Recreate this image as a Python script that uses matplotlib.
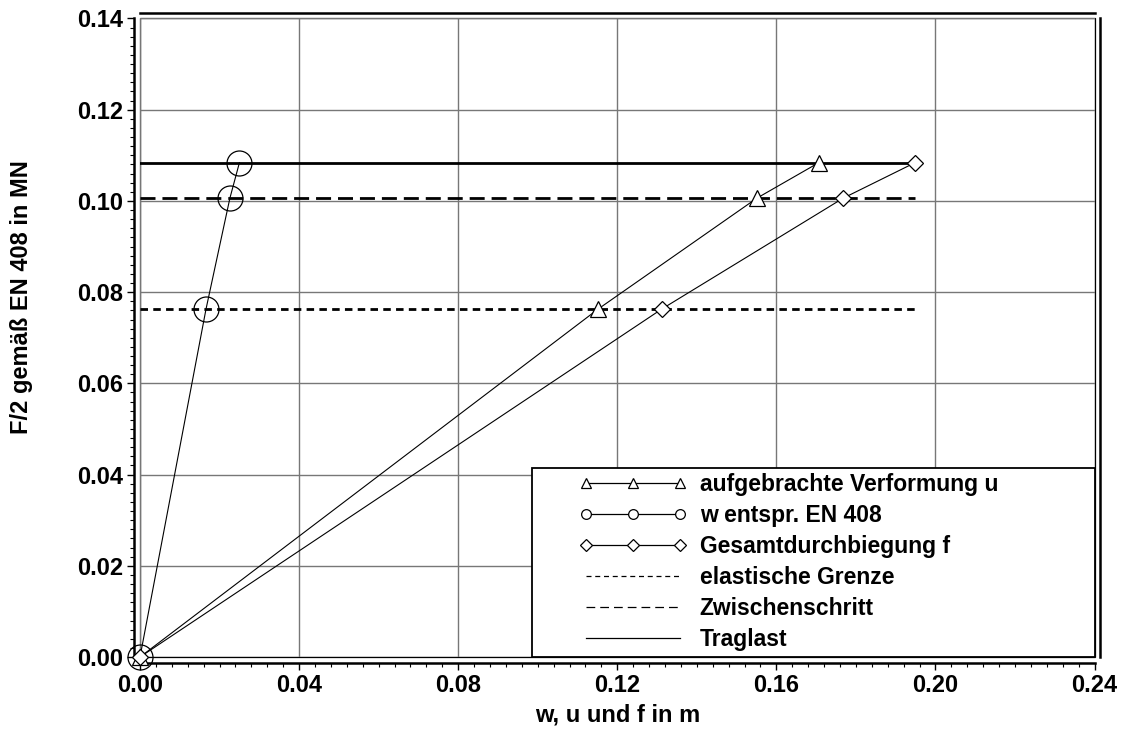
import matplotlib
matplotlib.use("Agg")
import matplotlib.pyplot as plt
from matplotlib.lines import Line2D
from matplotlib.patches import Rectangle
import numpy as np

plt.rcParams['font.family'] = ['Liberation Sans', 'DejaVu Sans']
plt.rcParams['font.weight'] = 'bold'
plt.rcParams['axes.labelweight'] = 'bold'

# Laststufen F/2 in MN
lasten = [0.0, 0.0763, 0.1006, 0.1084]
# aufgebrachte Verformung u, w nach EN 408, Gesamtdurchbiegung f (m)
u = [0.0, 0.1152, 0.1551, 0.1707]
w = [0.0, 0.0166, 0.0226, 0.0250]
f = [0.0, 0.1312, 0.1768, 0.1949]

stufen = ['elastische Grenze', 'Zwischenschritt', 'Traglast']
stufen_last = lasten[1:]
stufen_dash = [(0, (2.7, 1.9)), (0, (5.4, 2.5)), '-']

xticks = [0.00, 0.04, 0.08, 0.12, 0.16, 0.20, 0.24]
yticks = [0.00, 0.02, 0.04, 0.06, 0.08, 0.10, 0.12, 0.14]

fig = plt.figure(figsize=(11.3, 7.36), dpi=100)
ax = fig.add_axes([0.1239, 0.1073, 0.8447, 0.8676])

ax.set_xlim(0, 0.24)
ax.set_ylim(0, 0.14)
ax.set_xticks(xticks)
ax.set_yticks(yticks)
ax.set_xticks(np.arange(0, 0.2401, 0.004), minor=True)
ax.set_yticks(np.arange(0, 0.1401, 0.002), minor=True)
ax.set_xticklabels([f'{t:.2f}' for t in xticks])
ax.set_yticklabels([f'{t:.2f}' for t in yticks])
ax.grid(True, which='major', color='#777777', lw=1.0, zorder=0)

for s in ax.spines.values():
    s.set_position(('outward', 4))
    s.set_linewidth(1.8)
ax.add_patch(Rectangle((0, 0), 1, 1, transform=ax.transAxes, fill=False,
                       ec='black', lw=0.9, zorder=1, clip_on=False))

ax.tick_params(which='major', direction='out', length=5, width=1.0,
               labelsize=17, pad=3)
ax.tick_params(which='minor', direction='out', length=3, width=0.8)

# horizontale Laststufen bis zur groessten Durchbiegung
fmax = max(f)
for last, ls in zip(stufen_last, stufen_dash):
    ax.plot([0, fmax], [last, last], color='black', lw=2.0, linestyle=ls, zorder=2)

ax.plot(u, lasten, color='black', lw=0.8, marker='^', ms=12, mfc='white',
        mew=0.9, zorder=3, clip_on=False)
ax.plot(w, lasten, color='black', lw=0.8, marker='o', ms=18, mfc='none',
        mew=0.9, zorder=3, clip_on=False)
ax.plot(f, lasten, color='black', lw=0.8, marker='D', ms=8, mfc='white',
        mew=0.9, zorder=3, clip_on=False)

ax.set_xlabel('w, u und f in m', fontsize=17, labelpad=5)
ax.set_ylabel('F/2 gemäß EN 408 in MN', fontsize=17)
ax.yaxis.set_label_coords(-0.112, 0.563)

# Legende mit eigenem Rahmen
ax.add_patch(Rectangle((0.4107, 0), 0.5893, 0.296, transform=ax.transAxes,
                       facecolor='white', edgecolor='black', lw=1.3, zorder=5))
handles = [
    Line2D([], [], color='black', lw=0.9, marker='^', ms=7, mfc='white', mew=0.9),
    Line2D([], [], color='black', lw=0.9, marker='o', ms=7, mfc='white', mew=0.9),
    Line2D([], [], color='black', lw=0.9, marker='D', ms=6, mfc='white', mew=0.9),
    Line2D([], [], color='black', lw=0.9, linestyle=(0, (4, 3))),
    Line2D([], [], color='black', lw=0.9, linestyle=(0, (7, 4))),
    Line2D([], [], color='black', lw=0.9, linestyle='-'),
]
labels = ['aufgebrachte Verformung u', 'w entspr. EN 408', 'Gesamtdurchbiegung f'] + stufen
leg = ax.legend(handles, labels, loc='upper left', bbox_to_anchor=(0.46, 0.288),
                frameon=False, borderpad=0, borderaxespad=0, numpoints=3,
                handlelength=4.7, handletextpad=0.57, labelspacing=0.35,
                fontsize=16.5)
leg.set_zorder(6)

fig.savefig('out.png', dpi=100)
